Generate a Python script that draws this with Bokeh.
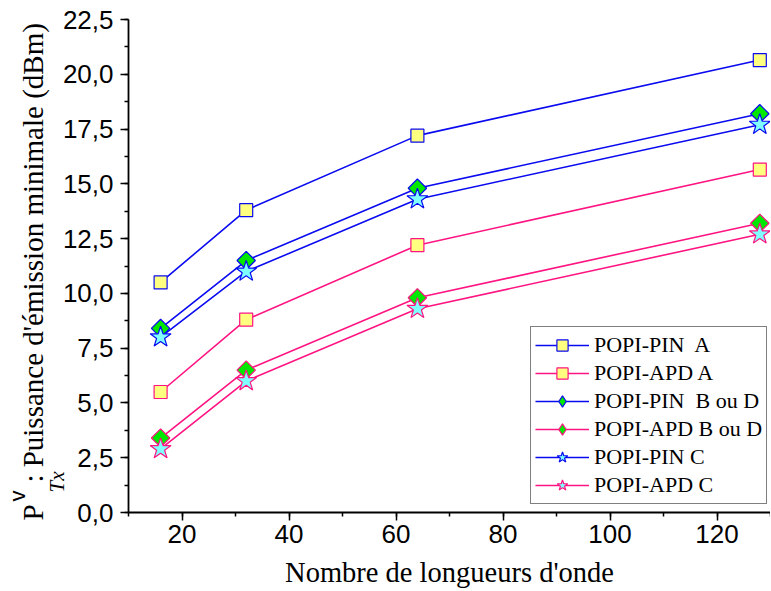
import math
from bokeh.plotting import figure
from bokeh.models import (Range1d, FixedTicker, Legend, LegendItem, Title)
from bokeh.embed import file_html
from bokeh.resources import INLINE

# ---- data ----
wavelengths = [16, 32, 64, 128]
pin_a = [10.5, 13.8, 17.2, 20.65]
apd_a = [5.5, 8.8, 12.2, 15.65]
pin_bd = [8.4, 11.5, 14.8, 18.2]
apd_bd = [3.4, 6.5, 9.8, 13.2]
pin_c = [8.0, 11.0, 14.3, 17.7]
apd_c = [2.9, 6.0, 9.3, 12.7]
series_names = ["POPI-PIN  A", "POPI-APD A", "POPI-PIN  B ou D",
                "POPI-APD B ou D", "POPI-PIN C", "POPI-APD C"]
y_ticks = [0, 2.5, 5, 7.5, 10, 12.5, 15, 17.5, 20, 22.5]
x_ticks = [20, 40, 60, 80, 100, 120]

BLUE = "#0A0AF0"
PINK = "#FF1482"
YELLOW = "#FFFF80"
GREEN = "#00E800"
CYAN = "#80FFFF"

p = figure(width=770, height=590, output_backend="svg", toolbar_location=None,
           x_range=Range1d(10, 130), y_range=Range1d(0, 22.5),
           min_border_left=128, min_border_right=0, min_border_top=19,
           min_border_bottom=0)
p.outline_line_color = None
p.xgrid.visible = False
p.ygrid.visible = False
p.background_fill_color = "white"

# (values, line colour, marker, fill, size, rotated)
styles = [
    (pin_a, BLUE, "square", YELLOW, 13, False),
    (apd_a, PINK, "square", YELLOW, 13, False),
    (pin_bd, BLUE, "diamond", GREEN, 13, True),
    (apd_bd, PINK, "diamond", GREEN, 13, True),
    (pin_c, BLUE, "star", CYAN, 22, False),
    (apd_c, PINK, "star", CYAN, 22, False),
]
items = []
for name, (ys, col, mk, fill, sz, rot) in zip(series_names, styles):
    lr = p.line(wavelengths, ys, line_color=col, line_width=1.6)
    mr = p.scatter(wavelengths, ys, marker=mk, size=sz, fill_color=fill,
                   line_color=col, line_width=1.2)
    if rot:
        # plotted diamond = square turned by 45 deg, drawn over the legend marker
        p.scatter(wavelengths, ys, marker="square", size=sz, angle=math.pi / 4,
                  fill_color=fill, line_color=col, line_width=1.2)
    items.append(LegendItem(label=name, renderers=[lr, mr]))

legend = Legend(items=items, location=(402, 8))
legend.label_text_font = "Liberation Serif"
legend.label_text_font_size = "22px"
legend.label_text_color = "black"
legend.glyph_width = 54
legend.glyph_height = 28
legend.spacing = 0
legend.padding = 4
legend.margin = 0
legend.label_standoff = 5
legend.border_line_color = "black"
legend.border_line_width = 1
legend.background_fill_color = "white"
legend.background_fill_alpha = 1
p.add_layout(legend, "center")

comma = lambda v: (f"{v:.1f}").replace(".", ",")
p.yaxis.ticker = FixedTicker(ticks=y_ticks,
                             minor_ticks=[i * 1.25 for i in range(19)])
p.yaxis.major_label_overrides = {v: comma(v) for v in y_ticks}
p.xaxis.ticker = FixedTicker(ticks=x_ticks, minor_ticks=list(range(10, 131, 10)))

for ax in (p.xaxis[0], p.yaxis[0]):
    ax.axis_line_color = "black"
    ax.axis_line_width = 1.8
    ax.major_tick_line_color = "black"
    ax.major_tick_line_width = 1.5
    ax.minor_tick_line_color = "black"
    ax.minor_tick_line_width = 1.5
    ax.major_tick_out = 8
    ax.major_tick_in = 0
    ax.minor_tick_out = 4
    ax.minor_tick_in = 0
    ax.major_label_text_font = "Liberation Sans"
    ax.major_label_text_font_size = "26px"
    ax.major_label_text_color = "black"

p.xaxis.axis_label = "Nombre de longueurs d'onde"
p.xaxis.axis_label_text_font = "Liberation Serif"
p.xaxis.axis_label_text_font_style = "normal"
p.xaxis.axis_label_text_font_size = "28.5px"
p.xaxis.axis_label_text_color = "black"
p.xaxis.axis_label_standoff = 11
p.xaxis.major_label_standoff = 4
p.yaxis.major_label_standoff = 7

# y axis label pieces as stacked side titles (nearest to the axis first)
SERIF = "Liberation Serif"
p.add_layout(Title(text="Tx", align="left", offset=20, standoff=-18,
                   text_font=SERIF, text_font_style="italic",
                   text_font_size="21px", text_color="black"), "left")
p.add_layout(Title(text="P\u2002 : Puissance d'émission minimale (dBm)",
                   align="left", offset=-8, standoff=6,
                   text_font=SERIF, text_font_style="normal",
                   text_font_size="29px", text_color="black"), "left")
p.add_layout(Title(text="v", align="left", offset=11, standoff=-37,
                   text_font="Liberation Sans", text_font_style="normal",
                   text_font_size="22px", text_color="black"), "left")

open("out.html", "w").write(file_html(p, INLINE))
